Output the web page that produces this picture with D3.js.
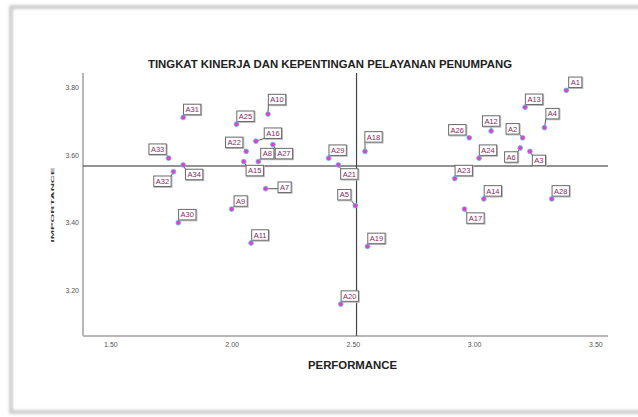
<!DOCTYPE html>
<html><head><meta charset="utf-8">
<script src="https://cdn.jsdelivr.net/npm/d3@7"></script>
<style>body{margin:0;background:#fff}svg{display:block}</style>
</head><body>
<script>
// ---- data ----
const labels = ["A1","A2","A3","A4","A5","A6","A7","A8","A9","A10","A11","A12","A13","A14","A15","A16","A17","A18","A19","A20","A21","A22","A23","A24","A25","A26","A27","A28","A29","A30","A31","A32","A33","A34"];
const performance = [3.38,3.20,3.23,3.29,2.51,3.19,2.14,2.11,2.00,2.15,2.08,3.07,3.21,3.04,2.05,2.10,2.96,2.55,2.56,2.45,2.44,2.06,2.92,3.02,2.02,2.98,2.17,3.32,2.40,1.78,1.80,1.76,1.74,1.80];
const importance  = [3.79,3.65,3.61,3.68,3.45,3.62,3.50,3.58,3.44,3.72,3.34,3.67,3.74,3.47,3.58,3.64,3.44,3.61,3.33,3.16,3.57,3.61,3.53,3.59,3.69,3.65,3.63,3.47,3.59,3.40,3.71,3.55,3.59,3.57];
const xTicks = [1.50,2.00,2.50,3.00,3.50];
const yTicks = [3.20,3.40,3.60,3.80];
const refPerformance = 2.515;
const refImportance = 3.567;
const title = "TINGKAT KINERJA DAN KEPENTINGAN PELAYANAN PENUMPANG";
const xTitle = "PERFORMANCE";
const yTitle = "IMPORTANCE";

// ---- label placement (layout only) ----
const defaultOffset = [9,-8];
const labelOffsets = {
  A4:[8,-14], A12:[0,-10], A26:[-12,-8], A2:[-10,-9], A6:[-9,9], A3:[9,9],
  A17:[11,9], A18:[8.5,-14.5], A21:[11,9], A5:[-11,-11], A10:[9,-14.5],
  A16:[17,-8], A27:[11,9], A22:[-12,-9], A15:[11,9], A33:[-11,-9],
  A34:[11,9.5], A32:[-11,9.5], A7:[19,-1.5]
};

const W=638,H=417;
const svg=d3.select("body").append("svg").attr("width",W).attr("height",H);
const defs=svg.append("defs");
const f=defs.append("filter").attr("id","sh").attr("x","-5%").attr("y","-5%").attr("width","110%").attr("height","110%");
f.append("feGaussianBlur").attr("stdDeviation",1.5);

// frame
svg.append("rect").attr("x",11).attr("y",7).attr("width",650).attr("height",405)
  .attr("fill","none").attr("stroke","#bdbdbd").attr("stroke-width",3).attr("filter","url(#sh)");
svg.append("rect").attr("x",11).attr("y",7).attr("width",650).attr("height",405)
  .attr("fill","none").attr("stroke","#d6d6d6").attr("stroke-width",1.5);

const x=d3.scaleLinear().domain([1.387,3.552]).range([83,608]);
const y=d3.scaleLinear().domain([3.066,3.841]).range([336,73]);

// title
svg.append("text").attr("x",330).attr("y",68).attr("text-anchor","middle")
  .attr("font-family","Liberation Sans, Arial, sans-serif").attr("font-weight","bold")
  .attr("font-size",10.5).attr("textLength",364).attr("lengthAdjust","spacingAndGlyphs")
  .attr("fill","#222").text(title);

// axes
const xAxis=svg.append("g").attr("transform","translate(0,336)")
  .call(d3.axisBottom(x).tickValues(xTicks).tickFormat(d3.format(".2f")).tickSize(0).tickPadding(6));
xAxis.select(".domain").attr("stroke","#b8b8b8").attr("stroke-width",2).attr("d","M83,0H608");
const yAxis=svg.append("g").attr("transform","translate(83,0)")
  .call(d3.axisLeft(y).tickValues(yTicks).tickFormat(d3.format(".2f")).tickSize(0).tickPadding(4));
yAxis.select(".domain").attr("stroke","#b8b8b8").attr("stroke-width",2).attr("d","M0,73V336");
svg.selectAll(".tick text").attr("font-family","Liberation Sans, Arial, sans-serif")
  .attr("font-size",7).style("fill","#555");

// axis titles
svg.append("text").attr("x",352.5).attr("y",369).attr("text-anchor","middle")
  .attr("font-family","Liberation Sans, Arial, sans-serif").attr("font-weight","bold")
  .attr("font-size",11).attr("textLength",89).attr("lengthAdjust","spacingAndGlyphs")
  .attr("fill","#222").text(xTitle);
svg.append("text").attr("transform","translate(54,205) rotate(-90) scale(1,0.35)")
  .attr("text-anchor","middle").attr("font-family","Liberation Sans, Arial, sans-serif")
  .attr("font-weight","bold").attr("font-size",11).attr("textLength",75)
  .attr("lengthAdjust","spacingAndGlyphs").attr("fill","#333").text(yTitle);

// reference lines
svg.append("line").attr("x1",83).attr("x2",608).attr("y1",y(refImportance)).attr("y2",y(refImportance))
  .attr("stroke","#6e6e6e").attr("stroke-width",1.5);
svg.append("line").attr("x1",x(refPerformance)).attr("x2",x(refPerformance)).attr("y1",73).attr("y2",336)
  .attr("stroke","#444").attr("stroke-width",1.2);

const data=labels.map((l,i)=>({label:l,px:performance[i],py:importance[i]}));

const fs=7.5;
const g=svg.append("g");
data.forEach(d=>{
  const cx=x(d.px), cy=y(d.py);
  const off=labelOffsets[d.label]||defaultOffset;
  const t=g.append("text").attr("font-family","Liberation Sans, Arial, sans-serif").attr("font-size",fs).text(d.label);
  const w=t.node().getComputedTextLength()+4, h=10.5;
  const bx=cx+off[0], by=cy+off[1];
  const x0=bx-w/2, y0=by-h/2;
  const nx=Math.max(x0,Math.min(cx,x0+w)), ny=Math.max(y0,Math.min(cy,y0+h));
  g.insert("line","text").attr("x1",cx).attr("y1",cy).attr("x2",nx).attr("y2",ny)
    .attr("stroke","#555").attr("stroke-width",1);
  g.insert("rect","text").attr("x",x0+0.8).attr("y",y0+0.8).attr("width",w).attr("height",h)
    .attr("fill","none").attr("stroke","#bbb").attr("stroke-width",1.2);
  g.insert("rect","text").attr("x",x0).attr("y",y0).attr("width",w).attr("height",h)
    .attr("fill","#fff").attr("stroke","#6a6a6a").attr("stroke-width",1);
  t.attr("x",bx).attr("y",by+2.7).attr("text-anchor","middle").attr("fill","#8b1f5e");
});
// points
svg.append("g").selectAll("circle").data(data).join("circle")
  .attr("cx",d=>x(d.px)).attr("cy",d=>y(d.py)).attr("r",2.4)
  .attr("fill","#f536c8").attr("stroke","#45c8ee").attr("stroke-width",0.8);
</script>
</body></html>
